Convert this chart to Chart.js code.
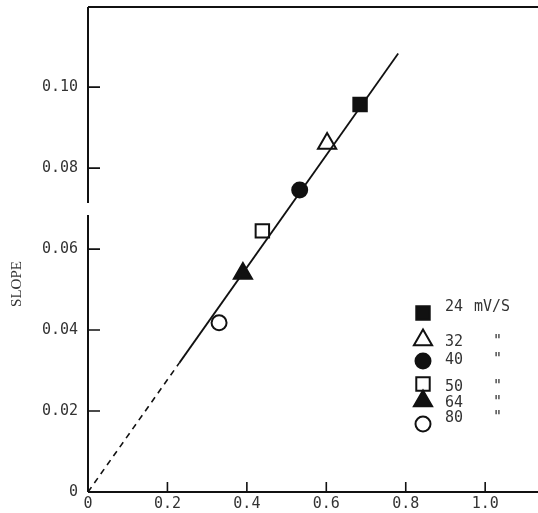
<!DOCTYPE html>
<html>
<head>
<meta charset="utf-8">
<script src="https://cdn.jsdelivr.net/npm/chart.js@4.4.0/dist/chart.umd.min.js"></script>
<style>
  html, body { margin: 0; padding: 0; background: #fff; overflow: hidden; }
  canvas { display: block; }
</style>
</head>
<body>
<canvas id="slopeChart" width="538" height="513"></canvas>
<script>
// scan rates (mV/S) and measured points
const rates = ['24', '32', '40', '50', '64', '80'];
const xVals = [0.685, 0.602, 0.533, 0.439, 0.390, 0.330];
const slopes = [0.0957, 0.0861, 0.0746, 0.0645, 0.054, 0.0418];
const markers = ['rect', 'triangle', 'circle', 'rect', 'triangle', 'circle'];
const filled = [true, false, true, false, true, false];

// fitted line: dashed part then solid part
const dashX = [0, 0.23];
const dashY = [0, 0.0319];
const solidX = [0.23, 0.781];
const solidY = [0.0319, 0.1083];

const xTicks = [0, 0.2, 0.4, 0.6, 0.8, 1.0];
const xTickLabels = ['0', '0.2', '0.4', '0.6', '0.8', '1.0'];
const yTicks = [0, 0.02, 0.04, 0.06, 0.08, 0.10];
const yTickLabels = ['0', '0.02', '0.04', '0.06', '0.08', '0.10'];

const ink = '#111';
const textInk = '#333';
const monoFont = '"DejaVu Sans Mono", monospace';

function markerRadius(style) {
    if (style === 'rect') return 9.5;
    if (style === 'triangle') return 10.5;
    return 7.5;
}

const pointSets = rates.map(function (r, i) {
    return {
        label: r,
        data: [{ x: xVals[i], y: slopes[i] }],
        pointStyle: markers[i],
        pointRadius: markerRadius(markers[i]),
        pointBackgroundColor: filled[i] ? ink : '#fff',
        pointBorderColor: ink,
        pointBorderWidth: 2,
        showLine: false
    };
});

function linePoints(xs, ys) {
    return xs.map(function (x, i) { return { x: x, y: ys[i] }; });
}

// frame, inward ticks, axis title and legend
const decor = {
    id: 'decor',
    afterDraw(chart) {
        const ctx = chart.ctx;
        const a = chart.chartArea;
        const xs = chart.scales.x, ys = chart.scales.y;
        ctx.save();
        ctx.strokeStyle = ink;
        ctx.lineWidth = 2;
        ctx.beginPath();
        // top line
        ctx.moveTo(a.left, a.top);
        ctx.lineTo(538, a.top);
        // left axis with a small break
        ctx.moveTo(a.left, a.top);
        ctx.lineTo(a.left, 203);
        ctx.moveTo(a.left, 215);
        ctx.lineTo(a.left, a.bottom);
        // bottom axis
        ctx.moveTo(a.left, a.bottom);
        ctx.lineTo(538, a.bottom);
        ctx.stroke();

        ctx.lineWidth = 1.6;
        ctx.beginPath();
        xTicks.slice(1).forEach(function (v) {
            const px = xs.getPixelForValue(v);
            ctx.moveTo(px, a.bottom);
            ctx.lineTo(px, a.bottom - 10);
        });
        yTicks.slice(1).forEach(function (v) {
            const py = ys.getPixelForValue(v);
            ctx.moveTo(a.left, py);
            ctx.lineTo(a.left + 12, py);
        });
        ctx.stroke();

        // y axis title
        ctx.save();
        ctx.translate(17, 284);
        ctx.rotate(-Math.PI / 2);
        ctx.fillStyle = textInk;
        ctx.font = '15px "Liberation Serif", serif';
        ctx.textAlign = 'center';
        ctx.textBaseline = 'middle';
        ctx.fillText('SLOPE', 0, 0);
        ctx.restore();

        // legend
        const rowY = [313, 340, 361, 384, 401, 424];
        const textY = [307, 342, 360, 387, 403, 418];
        ctx.font = '15px ' + monoFont;
        ctx.textBaseline = 'middle';
        ctx.textAlign = 'left';
        pointSets.forEach(function (ds, i) {
            ctx.fillStyle = ds.pointBackgroundColor;
            ctx.strokeStyle = ink;
            ctx.lineWidth = 2;
            Chart.helpers.drawPoint(ctx, {
                pointStyle: ds.pointStyle,
                radius: ds.pointRadius,
                borderWidth: 2,
                rotation: 0
            }, 423, rowY[i]);
            ctx.fillStyle = textInk;
            ctx.fillText(rates[i], 445, textY[i]);
            ctx.fillText(i === 0 ? 'mV/S' : '"', i === 0 ? 474 : 493, textY[i]);
        });
        ctx.restore();
    }
};

new Chart(document.getElementById('slopeChart').getContext('2d'), {
    type: 'scatter',
    data: {
        datasets: [
            {
                data: linePoints(dashX, dashY),
                showLine: true,
                borderColor: ink,
                borderWidth: 1.6,
                borderDash: [6, 5],
                pointRadius: 0
            },
            {
                data: linePoints(solidX, solidY),
                showLine: true,
                borderColor: ink,
                borderWidth: 1.8,
                pointRadius: 0
            }
        ].concat(pointSets)
    },
    options: {
        responsive: false,
        animation: false,
        layout: { autoPadding: false, padding: { top: 7, right: 0, left: 0, bottom: 0 } },
        plugins: {
            legend: { display: false },
            tooltip: { enabled: false }
        },
        scales: {
            x: {
                type: 'linear',
                min: 0,
                max: 1.133,
                grid: { display: false, drawTicks: false },
                border: { display: false },
                afterBuildTicks: function (s) { s.ticks = xTicks.map(function (v) { return { value: v }; }); },
                afterFit: function (s) { s.height = 21; s.paddingLeft = 0; s.paddingRight = 0; },
                ticks: {
                    padding: 3,
                    color: textInk,
                    font: { family: monoFont, size: 15 },
                    maxRotation: 0,
                    callback: function (v, i) { return xTickLabels[i]; }
                }
            },
            y: {
                min: 0,
                max: 0.1198,
                grid: { display: false, drawTicks: false },
                border: { display: false },
                afterBuildTicks: function (s) { s.ticks = yTicks.map(function (v) { return { value: v }; }); },
                afterFit: function (s) { s.width = 88; s.paddingTop = 0; s.paddingBottom = 0; },
                ticks: {
                    padding: 10,
                    color: textInk,
                    font: { family: monoFont, size: 15 },
                    callback: function (v, i) { return yTickLabels[i]; }
                }
            }
        }
    },
    plugins: [decor]
});
</script>
</body>
</html>
